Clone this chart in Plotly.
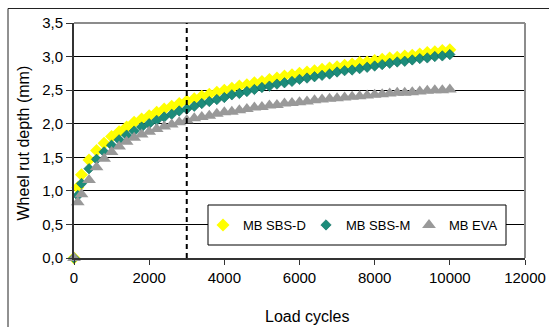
import plotly.graph_objects as go

# ---- data ----
cycles = [0, 100, 200, 400, 600, 800, 1000, 1200, 1400, 1600, 1800, 2000,
          2200, 2400, 2600, 2800, 3000, 3200, 3400, 3600, 3800, 4000,
          4200, 4400, 4600, 4800, 5000, 5200, 5400, 5600, 5800, 6000,
          6200, 6400, 6600, 6800, 7000, 7200, 7400, 7600, 7800, 8000,
          8200, 8400, 8600, 8800, 9000, 9200, 9400, 9600, 9800, 10000]

sbs_d = [0.0, 1.05, 1.24, 1.46, 1.60, 1.71, 1.81, 1.88, 1.95, 2.02, 2.07, 2.12,
         2.17, 2.22, 2.26, 2.30, 2.34, 2.37, 2.41, 2.44, 2.47, 2.50,
         2.53, 2.56, 2.58, 2.61, 2.63, 2.66, 2.68, 2.71, 2.73, 2.75,
         2.77, 2.79, 2.81, 2.83, 2.85, 2.87, 2.89, 2.91, 2.92, 2.94,
         2.96, 2.98, 2.99, 3.01, 3.02, 3.04, 3.06, 3.07, 3.09, 3.10]

sbs_m = [0.0, 0.93, 1.11, 1.33, 1.47, 1.58, 1.68, 1.76, 1.83, 1.89, 1.95, 2.00,
         2.05, 2.10, 2.14, 2.19, 2.22, 2.26, 2.30, 2.33, 2.36, 2.39,
         2.43, 2.45, 2.48, 2.51, 2.54, 2.56, 2.59, 2.61, 2.63, 2.66,
         2.68, 2.70, 2.72, 2.74, 2.77, 2.79, 2.80, 2.82, 2.84, 2.86,
         2.88, 2.90, 2.92, 2.93, 2.95, 2.97, 2.98, 3.00, 3.01, 3.03]

eva = [0.0, 0.83, 0.95, 1.16, 1.35, 1.48, 1.58, 1.66, 1.73, 1.79, 1.84, 1.88,
       1.92, 1.96, 1.99, 2.02, 2.05, 2.08, 2.10, 2.12, 2.15, 2.17,
       2.18, 2.20, 2.22, 2.24, 2.25, 2.27, 2.28, 2.30, 2.31, 2.32,
       2.33, 2.35, 2.36, 2.37, 2.38, 2.39, 2.40, 2.41, 2.42, 2.43,
       2.44, 2.45, 2.46, 2.46, 2.47, 2.48, 2.49, 2.50, 2.50, 2.51]

series_names = ["MB SBS-D", "MB SBS-M", "MB EVA"]
x_ticks = [0, 2000, 4000, 6000, 8000, 10000, 12000]
y_ticks = [0.0, 0.5, 1.0, 1.5, 2.0, 2.5, 3.0, 3.5]
ref_cycles = 3000

# ---- layout geometry (pixels) ----
W, H = 549, 327
L, R, T, B = 74, 24, 23, 69
pw, ph = W - L - R, H - T - B

def px(xp):
    return (xp - L) / pw

def py(yp):
    return (H - B - yp) / ph

FONT = "Liberation Sans, Arial, sans-serif"

fig = go.Figure()
fig.add_trace(go.Scatter(x=cycles, y=sbs_d, mode="markers", name=series_names[0],
                         marker=dict(symbol="diamond", size=10, color="#FFFF00",
                                     line=dict(width=0)),
                         cliponaxis=False))
fig.add_trace(go.Scatter(x=cycles, y=sbs_m, mode="markers", name=series_names[1],
                         marker=dict(symbol="diamond", size=8, color="#1C8C7A",
                                     line=dict(width=0.6, color="#0E6B5C")),
                         cliponaxis=False))
fig.add_trace(go.Scatter(x=cycles, y=eva, mode="markers", name=series_names[2],
                         marker=dict(symbol="triangle-up", size=12, color="#999999",
                                     line=dict(width=0)),
                         cliponaxis=False))

axis_col = "#333333"
fig.update_xaxes(range=[0, 12000], tickvals=x_ticks, tickformat="d",
                 showgrid=False, zeroline=False, automargin=False,
                 showline=True, linecolor=axis_col, linewidth=2,
                 ticks="outside", ticklen=5, tickwidth=1, tickcolor=axis_col,
                 tickfont=dict(family=FONT, size=15, color="#000"))
fig.update_yaxes(range=[0, 3.5], tickvals=y_ticks, tickformat=".1f",
                 showgrid=True, gridcolor="#000000", gridwidth=1, zeroline=False,
                 automargin=False,
                 showline=True, linecolor=axis_col, linewidth=2,
                 ticks="outside", ticklen=6, tickwidth=1, tickcolor=axis_col,
                 tickfont=dict(family=FONT, size=15, color="#000"))

shapes = [
    # outer chart border (only left/top visible)
    dict(type="rect", xref="paper", yref="paper", x0=px(8), x1=1.3, y0=-0.6, y1=py(8.5),
         line=dict(color="#222222", width=1), layer="below"),
    # top and right plot-area border in gray
    dict(type="line", xref="paper", yref="paper", x0=0, x1=1, y0=1, y1=1,
         line=dict(color="#8c8c8c", width=2), layer="above"),
    dict(type="line", xref="paper", yref="paper", x0=1, x1=1, y0=0, y1=1,
         line=dict(color="#8c8c8c", width=2), layer="above"),
    # dashed reference line
    dict(type="line", xref="x", yref="paper", x0=ref_cycles, x1=ref_cycles, y0=0, y1=1,
         line=dict(color="#000000", width=2, dash="5px,4px"), layer="above"),
    # legend box
    dict(type="rect", xref="paper", yref="paper", x0=px(208), x1=px(506),
         y0=py(245), y1=py(205), fillcolor="#FFFFFF",
         line=dict(color="#000000", width=1), layer="above"),
]

annotations = [
    dict(text="Load cycles", xref="paper", yref="paper", x=px(307), y=py(316.5),
         xanchor="center", yanchor="middle", showarrow=False,
         font=dict(family=FONT, size=16, color="#000")),
    dict(text="Wheel rut depth (mm)", xref="paper", yref="paper", x=px(23), y=py(143.5),
         xanchor="center", yanchor="middle", showarrow=False, textangle=-90,
         font=dict(family=FONT, size=16, color="#000")),
]

fig.update_layout(
    width=W, height=H,
    margin=dict(l=L, r=R, t=T, b=B, pad=0),
    paper_bgcolor="#FFFFFF", plot_bgcolor="#FFFFFF",
    separators=",.",
    font=dict(family=FONT, size=13, color="#000"),
    showlegend=True,
    legend=dict(orientation="h", x=px(203), xanchor="left", y=py(225), yanchor="middle",
                bgcolor="rgba(0,0,0,0)", borderwidth=0,
                entrywidth=58, entrywidthmode="pixels", itemwidth=30,
                font=dict(family=FONT, size=13, color="#000")),
    shapes=shapes,
    annotations=annotations,
)

fig.write_html("out.html",
               config={"displayModeBar": False},
               post_script="document.body.style.margin='0';document.body.style.overflow='hidden';")
